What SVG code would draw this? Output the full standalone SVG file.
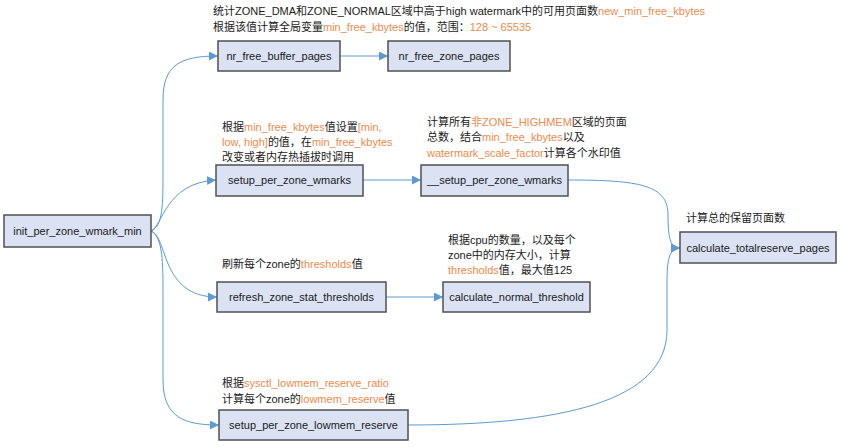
<svg xmlns="http://www.w3.org/2000/svg" width="841" height="447" viewBox="0 0 841 447">
<defs>
<marker id="arr" viewBox="0 0 10 10" refX="10" refY="5" markerWidth="9" markerHeight="9" markerUnits="userSpaceOnUse" orient="auto">
<path d="M0,0 L10,5 L0,10 z" fill="#5b9bd5"/>
</marker>
</defs>
<style>
.box{fill:#dae2f3;stroke:#505050;stroke-width:1.5}
.bt{font-family:"Liberation Sans","Noto Sans CJK SC",sans-serif;font-size:11px;fill:#1a1a1a;text-anchor:middle}
.lb{font-family:"Liberation Sans","Noto Sans CJK SC",sans-serif;font-size:11px;fill:#1a1a1a}
.o{fill:#f08a4b}
.c{fill:none;stroke:#5b9bd5;stroke-width:1;marker-end:url(#arr)}
</style>
<rect width="841" height="447" fill="#ffffff"/>

<g id="connectors">
<path class="c" d="M151,231 C163,226 163,205 163,170 L163,100 C163,65 180,56 218,56"/>
<path class="c" d="M151,231 C163,226 165,183 216,180"/>
<path class="c" d="M151,231 C168,236 160,297 217,297"/>
<path class="c" d="M151,231 C163,238 163,260 163,300 L163,380 C163,418 185,425 219,425"/>
<path class="c" d="M340,56 L388,56"/>
<path class="c" d="M363,180 L421,180"/>
<path class="c" d="M386,297 L443,297"/>
<path class="c" d="M568,180 C640,180 668,185 668,215 C668,240 671,248 680,248"/>
<path class="c" d="M408,425 C560,425 667,402 667,330 L667,280 C667,256 671,248 680,248"/>
</g>

<g id="init_per_zone_wmark_min">
<rect class="box" x="4" y="215" width="147" height="32"/>
<text class="bt" x="77.5" y="235">init_per_zone_wmark_min</text>
</g>

<g id="nr_free_buffer_pages">
<rect class="box" x="218" y="41" width="122" height="30"/>
<text class="bt" x="279" y="60">nr_free_buffer_pages</text>
</g>

<g id="nr_free_zone_pages">
<rect class="box" x="388" y="41" width="122" height="30"/>
<text class="bt" x="449" y="60">nr_free_zone_pages</text>
</g>

<g id="setup_per_zone_wmarks">
<rect class="box" x="216" y="165" width="147" height="31"/>
<text class="bt" x="289.5" y="184">setup_per_zone_wmarks</text>
</g>

<g id="__setup_per_zone_wmarks">
<rect class="box" x="421" y="165" width="147" height="31"/>
<text class="bt" x="494.5" y="184">__setup_per_zone_wmarks</text>
</g>

<g id="calculate_totalreserve_pages">
<rect class="box" x="680" y="232" width="156" height="31"/>
<text class="bt" x="758" y="252">calculate_totalreserve_pages</text>
</g>

<g id="refresh_zone_stat_thresholds">
<rect class="box" x="217" y="282" width="169" height="30"/>
<text class="bt" x="301.5" y="301">refresh_zone_stat_thresholds</text>
</g>

<g id="calculate_normal_threshold">
<rect class="box" x="443" y="282" width="147" height="30"/>
<text class="bt" x="516.5" y="301">calculate_normal_threshold</text>
</g>

<g id="setup_per_zone_lowmem_reserve">
<rect class="box" x="219" y="410" width="189" height="30"/>
<text class="bt" x="313.5" y="429">setup_per_zone_lowmem_reserve</text>
</g>

<g id="labels">
<text class="lb" x="213" y="15">统计ZONE_DMA和ZONE_NORMAL区域中高于high watermark中的可用页面数<tspan class="o">new_min_free_kbytes</tspan></text>
<text class="lb" x="213" y="31">根据该值计算全局变量<tspan class="o">min_free_kbytes</tspan>的值，范围：<tspan class="o">128 ~ 65535</tspan></text>

<text class="lb" x="222" y="131">根据<tspan class="o">min_free_kbytes</tspan>值设置<tspan class="o">[min,</tspan></text>
<text class="lb" x="222" y="146"><tspan class="o">low, high]</tspan>的值，在<tspan class="o">min_free_kbytes</tspan></text>
<text class="lb" x="222" y="161">改变或者内存热插拔时调用</text>

<text class="lb" x="427" y="126">计算所有<tspan class="o">非ZONE_HIGHMEM</tspan>区域的页面</text>
<text class="lb" x="427" y="141">总数，结合<tspan class="o">min_free_kbytes</tspan>以及</text>
<text class="lb" x="427" y="157"><tspan class="o">watermark_scale_factor</tspan>计算各个水印值</text>

<text class="lb" x="686" y="222">计算总的保留页面数</text>

<text class="lb" x="448" y="244">根据cpu的数量，以及每个</text>
<text class="lb" x="448" y="259">zone中的内存大小，计算</text>
<text class="lb" x="448" y="274"><tspan class="o">thresholds</tspan>值，最大值125</text>

<text class="lb" x="222" y="268">刷新每个zone的<tspan class="o">thresholds</tspan>值</text>

<text class="lb" x="222" y="387">根据<tspan class="o">sysctl_lowmem_reserve_ratio</tspan></text>
<text class="lb" x="222" y="403">计算每个zone的<tspan class="o">lowmem_reserve</tspan>值</text>
</g>
</svg>
